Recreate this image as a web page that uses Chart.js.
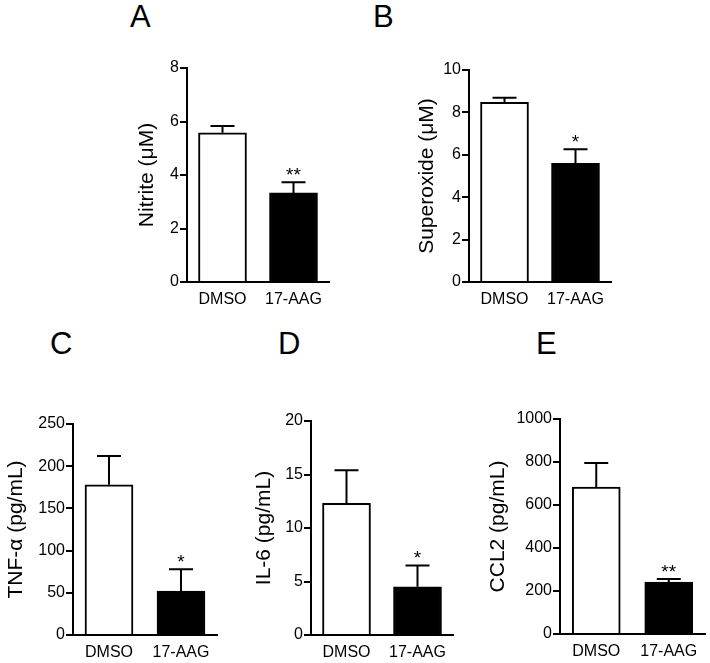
<!DOCTYPE html>
<html>
<head>
<meta charset="utf-8">
<script src="https://cdn.jsdelivr.net/npm/chart.js@4.4.1/dist/chart.umd.min.js"></script>
<style>
  html, body { margin: 0; padding: 0; background: #fff; }
  body { width: 710px; height: 663px; position: relative; overflow: hidden;
         font-family: "Liberation Sans", Arial, sans-serif; }
  canvas { position: absolute; }
  .letter { position: absolute; font-size: 31px; line-height: 1; color: #000; }
</style>
</head>
<body>
<div class="letter" style="left:130px;top:1px">A</div>
<div class="letter" style="left:373px;top:1px">B</div>
<div class="letter" style="left:50px;top:328px">C</div>
<div class="letter" style="left:278px;top:328px">D</div>
<div class="letter" style="left:536px;top:328px">E</div>

<canvas id="panelA"></canvas>
<canvas id="panelB"></canvas>
<canvas id="panelC"></canvas>
<canvas id="panelD"></canvas>
<canvas id="panelE"></canvas>

<script>
// groups on every x axis
const groups = ['DMSO', '17-AAG'];

// mean and SEM
const nitrite = [5.58, 3.33];
const nitriteSem = [0.25, 0.40];
const superoxide = [8.48, 5.60];
const superoxideSem = [0.21, 0.66];
const tnf = [178, 52];
const tnfSem = [34, 26];
const il6 = [12.3, 4.5];
const il6Sem = [3.1, 2.0];
const ccl2 = [683, 241];
const ccl2Sem = [112, 15];

// significance marks
const nitriteStars = ['', '**'];
const superoxideStars = ['', '*'];
const tnfStars = ['', '*'];
const il6Stars = ['', '*'];
const ccl2Stars = ['', '**'];

Chart.defaults.font.family = '"Liberation Sans", Arial, sans-serif';
Chart.defaults.color = '#000';

// error bar (upper half only) + stars over it
const errorBars = {
    id: 'errorBars',
    afterDatasetsDraw(chart, args, opts) {
        const { ctx, scales: { y } } = chart;
        const meta = chart.getDatasetMeta(0);
        ctx.save();
        ctx.strokeStyle = '#000';
        ctx.fillStyle = '#000';
        ctx.lineWidth = 2;
        ctx.font = '19px "Liberation Sans", Arial, sans-serif';
        ctx.textAlign = 'center';
        ctx.textBaseline = 'alphabetic';
        meta.data.forEach((bar, i) => {
            const top = y.getPixelForValue(opts.values[i] + opts.sem[i]);
            ctx.beginPath();
            ctx.moveTo(bar.x, bar.y);
            ctx.lineTo(bar.x, top);
            ctx.moveTo(bar.x - 12, top);
            ctx.lineTo(bar.x + 12, top);
            ctx.stroke();
            if (opts.stars[i]) ctx.fillText(opts.stars[i], bar.x, top - 1);
        });
        ctx.restore();
    }
};

// where each plot area sits on the page
const panels = [
    { id: 'panelA', title: 'Nitrite (\u03bcM)', values: nitrite, sem: nitriteSem, stars: nitriteStars,
      max: 8, step: 2, area: { l: 187, r: 329, t: 68, b: 282 }, titleX: 147, top: 40 },
    { id: 'panelB', title: 'Superoxide (\u03bcM)', values: superoxide, sem: superoxideSem, stars: superoxideStars,
      max: 10, step: 2, area: { l: 469, r: 611, t: 70, b: 282 }, titleX: 427, top: 40 },
    { id: 'panelC', title: 'TNF-\u03b1 (pg/mL)', values: tnf, sem: tnfSem, stars: tnfStars,
      max: 250, step: 50, area: { l: 73, r: 217, t: 424, b: 635 }, titleX: 15, top: 395 },
    { id: 'panelD', title: 'IL-6 (pg/mL)', values: il6, sem: il6Sem, stars: il6Stars,
      max: 20, step: 5, area: { l: 311, r: 453, t: 421, b: 635 }, titleX: 264, top: 395 },
    { id: 'panelE', title: 'CCL2 (pg/mL)', values: ccl2, sem: ccl2Sem, stars: ccl2Stars,
      max: 1000, step: 200, area: { l: 560, r: 705, t: 419, b: 634 }, titleX: 498, top: 395 }
];

const xAxisHeight = 40;

panels.forEach(p => {
    const canvas = document.getElementById(p.id);
    const left = Math.max(0, p.titleX - 16);
    const width = p.area.r + 4 - left;
    const height = p.area.b + xAxisHeight - p.top;
    canvas.width = width;
    canvas.height = height;
    canvas.style.left = left + 'px';
    canvas.style.top = p.top + 'px';
    canvas.style.width = width + 'px';
    canvas.style.height = height + 'px';

    new Chart(canvas, {
        type: 'bar',
        plugins: [errorBars],
        data: {
            labels: groups,
            datasets: [{
                data: p.values,
                backgroundColor: ['#ffffff', '#000000'],
                borderColor: '#000',
                borderWidth: 2,
                barThickness: 48
            }]
        },
        options: {
            responsive: false,
            animation: false,
            layout: { padding: { top: p.area.t - p.top, right: 4, left: 0, bottom: 0 } },
            plugins: {
                legend: { display: false },
                tooltip: { enabled: false },
                errorBars: { values: p.values, sem: p.sem, stars: p.stars }
            },
            scales: {
                x: {
                    grid: { display: false, drawTicks: false },
                    border: { color: '#000', width: 2 },
                    ticks: { color: '#000', font: { size: 16 }, padding: 8, maxRotation: 0, autoSkip: false },
                    afterFit: s => { s.height = xAxisHeight; }
                },
                y: {
                    min: 0,
                    max: p.max,
                    ticks: { stepSize: p.step, color: '#000', font: { size: 16 }, padding: 1,
                             callback: v => String(v) },
                    grid: { drawOnChartArea: false, color: '#000', lineWidth: 2, tickLength: 7 },
                    border: { color: '#000', width: 2 },
                    title: { display: true, text: p.title, color: '#000', font: { size: 21 } },
                    afterFit: s => { s.width = p.area.l - left; }
                }
            }
        }
    });
});
</script>
</body>
</html>
